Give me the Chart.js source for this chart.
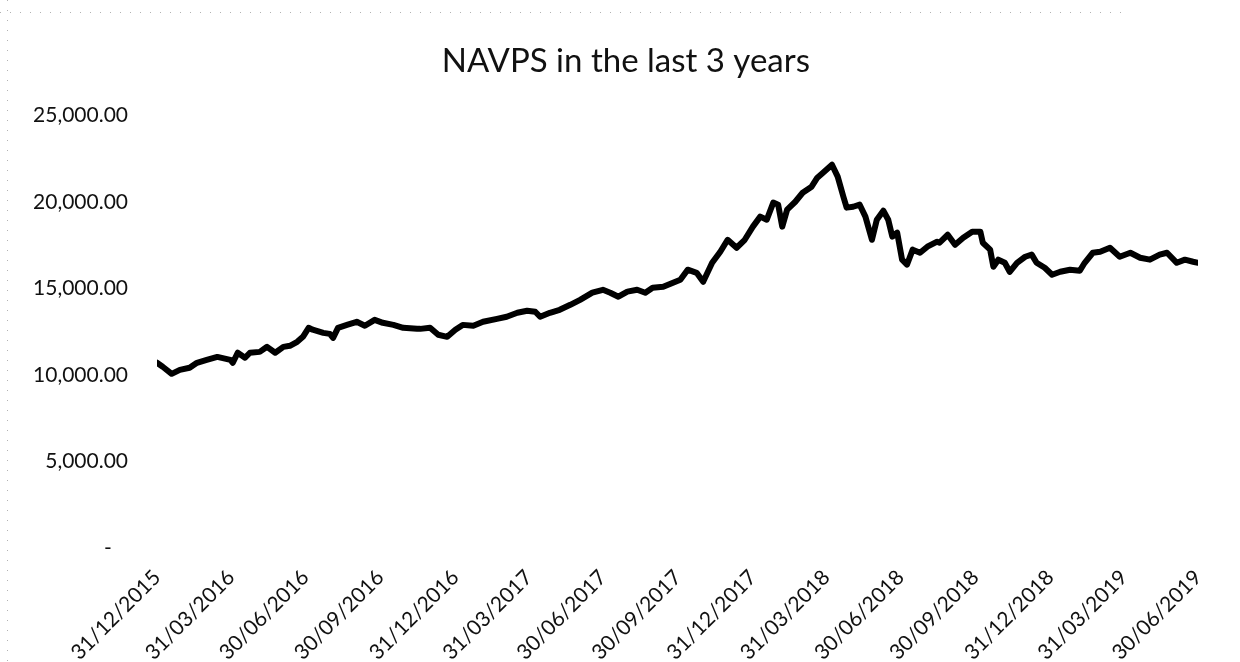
<!DOCTYPE html>
<html>
<head>
<meta charset="utf-8">
<title>NAVPS in the last 3 years</title>
<script src="https://cdn.jsdelivr.net/npm/chart.js@4.4.1/dist/chart.umd.min.js"></script>
<style>
  html, body { margin: 0; padding: 0; background: #fff; }
  #wrap { width: 1240px; height: 662px; position: relative; }
</style>
</head>
<body>
<div id="wrap"><canvas id="navChart"></canvas></div>
<script>
  // NAVPS, x = days after 31/12/2015
  const startDate = '31/12/2015';
  const dayOffsets = [
    0, 7, 18, 28, 40, 49, 61, 74, 90, 93,
    99, 108, 114, 126, 135, 145, 155, 163, 172, 179,
    186, 191, 204, 212, 216, 222, 233, 245, 255, 267,
    277, 290, 302, 319, 323, 335, 345, 356, 366, 375,
    388, 400, 417, 429, 442, 454, 464, 470, 482, 494,
    507, 519, 534, 547, 556, 566, 577, 589, 599, 608,
    621, 633, 642, 651, 662, 670, 681, 691, 700, 711,
    721, 731, 740, 748, 756, 762, 767, 773, 783, 792,
    803, 810, 817, 828, 835, 842, 846, 854, 862, 869,
    877, 883, 891, 897, 902, 908, 914, 920, 927, 936,
    945, 957, 960, 970, 979, 989, 1000, 1010, 1013, 1022,
    1026, 1032, 1040, 1046, 1055, 1065, 1073, 1079, 1089, 1098,
    1108, 1120, 1132, 1138, 1148, 1157, 1169, 1181, 1194, 1206,
    1218, 1230, 1239, 1251, 1261, 1271, 1277
  ];
  const navps = [
    10710, 10480, 10070, 10300, 10420, 10710, 10880, 11050, 10880, 10710,
    11290, 11000, 11290, 11340, 11630, 11290, 11630, 11690, 11920, 12210,
    12730, 12620, 12440, 12380, 12150, 12730, 12900, 13080, 12850, 13190,
    13020, 12900, 12730, 12670, 12670, 12730, 12330, 12210, 12620, 12900,
    12850, 13080, 13250, 13370, 13600, 13720, 13660, 13370, 13600, 13770,
    14060, 14350, 14760, 14930, 14760, 14530, 14820, 14930, 14760, 15050,
    15100, 15340, 15510, 16090, 15910, 15390, 16490, 17130, 17820, 17360,
    17820, 18580, 19160, 18980, 19970, 19850, 18580, 19560, 20020, 20540,
    20890, 21410, 21700, 22160, 21470, 20310, 19680, 19730, 19850, 19160,
    17820, 18980, 19500, 18980, 18000, 18230, 16670, 16380, 17250, 17070,
    17420, 17710, 17650, 18110, 17530, 17940, 18290, 18290, 17650, 17250,
    16260, 16670, 16490, 15970, 16490, 16840, 16960, 16490, 16200, 15800,
    15970, 16090, 16030, 16490, 17070, 17130, 17360, 16840, 17070, 16780,
    16670, 16960, 17070, 16490, 16670, 16550, 16490
  ];
  const quarterLabels = [
    '31/12/2015', '31/03/2016', '30/06/2016', '30/09/2016', '31/12/2016',
    '31/03/2017', '30/06/2017', '30/09/2017', '31/12/2017', '31/03/2018',
    '30/06/2018', '30/09/2018', '31/12/2018', '31/03/2019', '30/06/2019'
  ];
  const yTicks = [0, 5000, 10000, 15000, 20000, 25000];

  function toUTC(s) {
    const p = s.split('/');
    return Date.UTC(+p[2], +p[1] - 1, +p[0]);
  }
  function daysFromStart(s) {
    return Math.round((toUTC(s) - toUTC(startDate)) / 86400000);
  }

  const quarterDays = quarterLabels.map(daysFromStart);
  const points = dayOffsets.map((d, i) => ({ x: d, y: navps[i] }));

  Chart.defaults.font.family = 'Lato, "Open Sans", sans-serif';
  Chart.defaults.color = '#111';

  // faint dotted frame left over from the scan
  const dottedFrame = {
    id: 'dottedFrame',
    beforeDraw(chart) {
      const ctx = chart.ctx;
      ctx.save();
      ctx.strokeStyle = 'rgba(0,0,0,0.3)';
      ctx.lineWidth = 1;
      ctx.setLineDash([1, 9]);
      ctx.beginPath();
      ctx.moveTo(0, 12.5); ctx.lineTo(1130, 12.5);
      ctx.moveTo(7.5, 0); ctx.lineTo(7.5, 662);
      ctx.stroke();
      ctx.restore();
    }
  };

  new Chart(document.getElementById('navChart'), {
    type: 'line',
    data: {
      datasets: [{
        label: 'NAVPS',
        data: points,
        borderColor: '#000',
        borderWidth: 6,
        pointRadius: 0,
        tension: 0,
        borderJoinStyle: 'round',
        borderCapStyle: 'round'
      }]
    },
    options: {
      responsive: true,
      maintainAspectRatio: false,
      animation: false,
      layout: { padding: { left: 20, right: 42, top: 0, bottom: 0 } },
      plugins: {
        legend: { display: false },
        tooltip: { enabled: false },
        title: {
          display: true,
          // leading spaces nudge the centred title right, as in the original
          text: '    NAVPS in the last 3 years',
          color: '#111',
          font: { size: 33, weight: 'normal' },
          padding: { top: 42, bottom: 34 }
        }
      },
      scales: {
        x: {
          type: 'linear',
          min: 0,
          max: quarterDays[quarterDays.length - 1],
          grid: { display: false, drawTicks: false },
          border: { display: false },
          afterBuildTicks(scale) {
            scale.ticks = quarterDays.map(v => ({ value: v }));
          },
          afterFit(scale) { scale.height = 114; },
          ticks: {
            autoSkip: false,
            maxRotation: 45,
            minRotation: 45,
            padding: 17,
            font: { size: 21 },
            callback: (v, i) => quarterLabels[i]
          }
        },
        y: {
          min: 0,
          max: 25000,
          grid: { display: false, drawTicks: false },
          border: { display: false },
          afterBuildTicks(scale) {
            scale.ticks = yTicks.map(v => ({ value: v }));
          },
          afterFit(scale) { scale.width = 137; },
          ticks: {
            padding: 29,
            font: { size: 21 },
            callback: v => v === 0 ? '-   ' :
              v.toLocaleString('en-US', { minimumFractionDigits: 2, maximumFractionDigits: 2 })
          }
        }
      }
    },
    plugins: [dottedFrame]
  });
</script>
</body>
</html>
